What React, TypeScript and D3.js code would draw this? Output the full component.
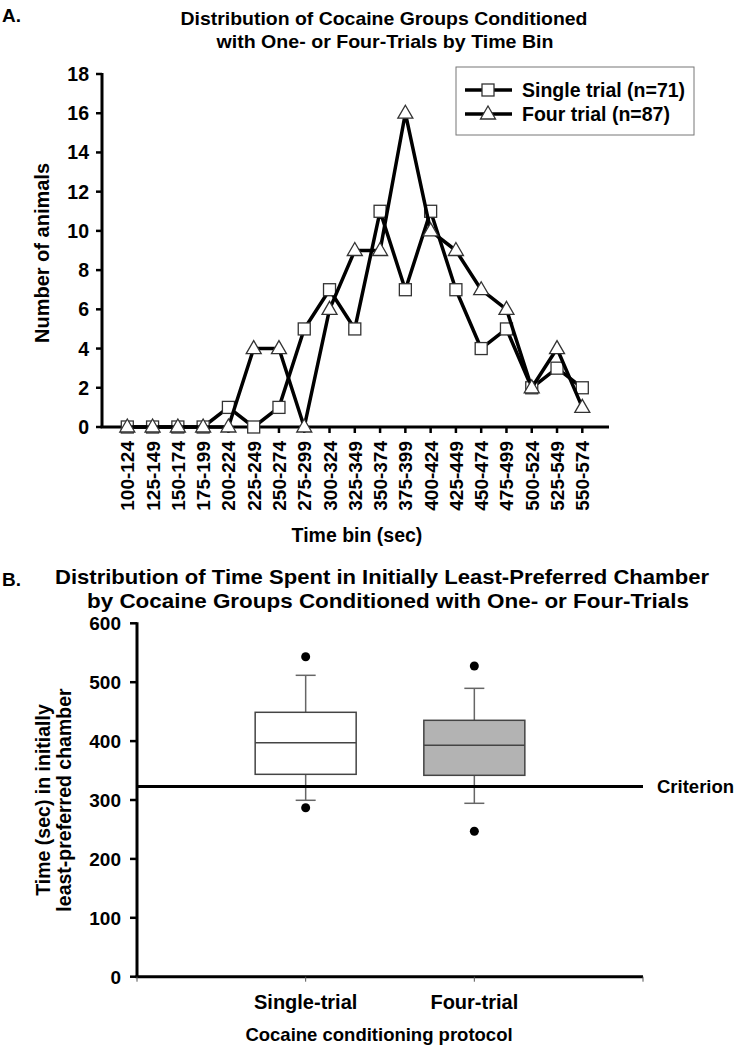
import React from "react";
import * as d3 from "d3";

const bins = ["100-124","125-149","150-174","175-199","200-224","225-249","250-274","275-299","300-324","325-349","350-374","375-399","400-424","425-449","450-474","475-499","500-524","525-549","550-574"];
const singleTrial = [0,0,0,0,1,0,1,5,7,5,11,7,11,7,4,5,2,3,2];
const fourTrial = [0,0,0,0,0,4,4,0,6,9,9,16,10,9,7,6,2,4,1];
const yTicksA = [0,2,4,6,8,10,12,14,16,18];
const legendLabels = ["Single trial (n=71)", "Four trial (n=87)"];

const groups = ["Single-trial", "Four-trial"];
const whiskerLow = [299.5, 294.4];
const q1 = [343.6, 341.9];
const median = [397.3, 392.9];
const q3 = [448.9, 435.3];
const whiskerHigh = [511.7, 489.6];
const outliers = [[543.3, 286.9], [527.5, 246.9]];
const boxFill = ["#ffffff", "#b3b3b3"];
const yTicksB = [0,100,200,300,400,500,600];
const criterion = 323;

const FONT = "'Liberation Sans', Arial, sans-serif";

function Square({ x, y }: { x: number; y: number }) {
  return <rect x={x - 6} y={y - 6} width={12} height={12} fill="#fff" stroke="#333" strokeWidth={1.3} />;
}
function Triangle({ x, y }: { x: number; y: number }) {
  return <path d={`M${x},${y - 8} L${x + 7.5},${y + 5} L${x - 7.5},${y + 5} Z`} fill="#fff" stroke="#333" strokeWidth={1.3} />;
}

export default function App() {
  // Chart A scales
  const xA = d3.scalePoint<string>().domain(bins).range([127.3, 582.3]);
  const yA = d3.scaleLinear().domain([0, 18]).range([427, 74]);
  const axisA = { x0: 102, x1: 609 };
  const line = d3.line<number>().x((_, i) => xA(bins[i]) as number).y((d) => yA(d));

  // Chart B scales
  const xB = d3.scalePoint<string>().domain(groups).range([137, 643]).padding(1);
  const xBlin = d3.scaleLinear().domain([0, 3]).range([137, 643]);
  const yB = d3.scaleLinear().domain([0, 600]).range([976.7, 623.3]);
  const boxW = 101;
  const capW = 20;

  return (
    <div style={{ position: "absolute", left: 0, top: 0 }}>
      <svg width={736} height={1050} style={{ display: "block", fontFamily: FONT, fontWeight: "bold" }}>
        <rect width={736} height={1050} fill="#fff" />
        {/* ---------- Chart A ---------- */}
        <text x={2} y={22} fontSize={19}>A.</text>
        <text x={384} y={25} fontSize={19} textAnchor="middle" textLength={407} lengthAdjust="spacingAndGlyphs">Distribution of Cocaine Groups Conditioned</text>
        <text x={385} y={48} fontSize={19} textAnchor="middle" textLength={337} lengthAdjust="spacingAndGlyphs">with One- or Four-Trials by Time Bin</text>

        {/* axes */}
        <line x1={axisA.x0} x2={axisA.x0} y1={yA(18) - 1} y2={yA(0)} stroke="#000" strokeWidth={3} />
        <line x1={axisA.x0 - 1.5} x2={axisA.x1} y1={yA(0)} y2={yA(0)} stroke="#000" strokeWidth={3} />
        {yTicksA.map((t) => (
          <g key={t}>
            <line x1={axisA.x0 - 6} x2={axisA.x0} y1={yA(t)} y2={yA(t)} stroke="#000" strokeWidth={2.5} />
            <text x={89} y={yA(t)} dy="0.36em" fontSize={19.5} textAnchor="end">{t}</text>
          </g>
        ))}
        {bins.map((b) => (
          <g key={b}>
            <line x1={xA(b)} x2={xA(b)} y1={yA(0)} y2={yA(0) + 6} stroke="#000" strokeWidth={2.5} />
            <text transform={`translate(${(xA(b) as number) + 7},${441}) rotate(-90)`} fontSize={19} textAnchor="end">{b}</text>
          </g>
        ))}
        <text transform={`translate(49,253) rotate(-90)`} fontSize={20} textAnchor="middle">Number of animals</text>
        <text x={357} y={542} fontSize={19.5} textAnchor="middle">Time bin (sec)</text>

        {/* series */}
        <path d={line(singleTrial) as string} fill="none" stroke="#000" strokeWidth={3.5} strokeLinejoin="round" />
        {singleTrial.map((v, i) => <Square key={"s" + i} x={xA(bins[i]) as number} y={yA(v)} />)}
        <path d={line(fourTrial) as string} fill="none" stroke="#000" strokeWidth={3.5} strokeLinejoin="round" />
        {fourTrial.map((v, i) => <Triangle key={"t" + i} x={xA(bins[i]) as number} y={yA(v)} />)}

        {/* legend */}
        <rect x={456} y={67} width={238} height={68} fill="#fff" stroke="#777" strokeWidth={1} />
        {legendLabels.map((lab, i) => {
          const ly = 90 + i * 24;
          return (
            <g key={lab}>
              <line x1={465} x2={512} y1={ly} y2={ly} stroke="#000" strokeWidth={3.5} />
              {i === 0 ? <Square x={488} y={ly} /> : <Triangle x={488} y={ly} />}
              <text x={522} y={ly} dy="0.36em" fontSize={19.5}>{lab}</text>
            </g>
          );
        })}

        {/* ---------- Chart B ---------- */}
        <text x={2} y={586} fontSize={19}>B.</text>
        <text x={382} y={584} fontSize={21} textAnchor="middle" textLength={654} lengthAdjust="spacingAndGlyphs">Distribution of Time Spent in Initially Least-Preferred Chamber</text>
        <text x={388} y={608} fontSize={21} textAnchor="middle" textLength={602} lengthAdjust="spacingAndGlyphs">by Cocaine Groups Conditioned with One- or Four-Trials</text>

        <line x1={137} x2={137} y1={yB(600) - 1} y2={yB(0)} stroke="#000" strokeWidth={3} />
        <line x1={135.5} x2={643} y1={yB(0)} y2={yB(0)} stroke="#000" strokeWidth={3} />
        {yTicksB.map((t) => (
          <g key={t}>
            <line x1={130} x2={137} y1={yB(t)} y2={yB(t)} stroke="#000" strokeWidth={2.5} />
            <text x={121} y={yB(t)} dy="0.36em" fontSize={19} textAnchor="end">{t}</text>
          </g>
        ))}
        {[0, 1, 2, 3].map((t) => (
          <line key={t} x1={xBlin(t)} x2={xBlin(t)} y1={yB(0)} y2={yB(0) + 5} stroke="#555" strokeWidth={1} />
        ))}
        <text transform="translate(50,800) rotate(-90)" fontSize={19.5} textAnchor="middle">Time (sec) in initially</text>
        <text transform="translate(71,800) rotate(-90)" fontSize={19.5} textAnchor="middle">least-preferred chamber</text>
        {groups.map((g) => (
          <text key={g} x={xB(g)} y={1009} fontSize={20} textAnchor="middle">{g}</text>
        ))}
        <text x={379} y={1041} fontSize={18.5} textAnchor="middle">Cocaine conditioning protocol</text>

        {/* boxes */}
        {groups.map((g, i) => {
          const cx = xB(g) as number;
          return (
            <g key={g}>
              <line x1={cx} x2={cx} y1={yB(whiskerHigh[i])} y2={yB(q3[i])} stroke="#666" strokeWidth={1.5} />
              <line x1={cx} x2={cx} y1={yB(q1[i])} y2={yB(whiskerLow[i])} stroke="#666" strokeWidth={1.5} />
              <line x1={cx - capW / 2} x2={cx + capW / 2} y1={yB(whiskerHigh[i])} y2={yB(whiskerHigh[i])} stroke="#666" strokeWidth={1.5} />
              <line x1={cx - capW / 2} x2={cx + capW / 2} y1={yB(whiskerLow[i])} y2={yB(whiskerLow[i])} stroke="#666" strokeWidth={1.5} />
              <rect x={cx - boxW / 2} y={yB(q3[i])} width={boxW} height={yB(q1[i]) - yB(q3[i])} fill={boxFill[i]} stroke="#444" strokeWidth={1.5} />
              <line x1={cx - boxW / 2} x2={cx + boxW / 2} y1={yB(median[i])} y2={yB(median[i])} stroke="#444" strokeWidth={1.5} />
              {outliers[i].map((o, j) => (
                <circle key={j} cx={cx} cy={yB(o)} r={4.5} fill="#000" />
              ))}
            </g>
          );
        })}
        <line x1={137} x2={643} y1={yB(criterion)} y2={yB(criterion)} stroke="#000" strokeWidth={3} />
        <text x={657} y={yB(criterion)} dy="0.36em" fontSize={18.5}>Criterion</text>
      </svg>
    </div>
  );
}
